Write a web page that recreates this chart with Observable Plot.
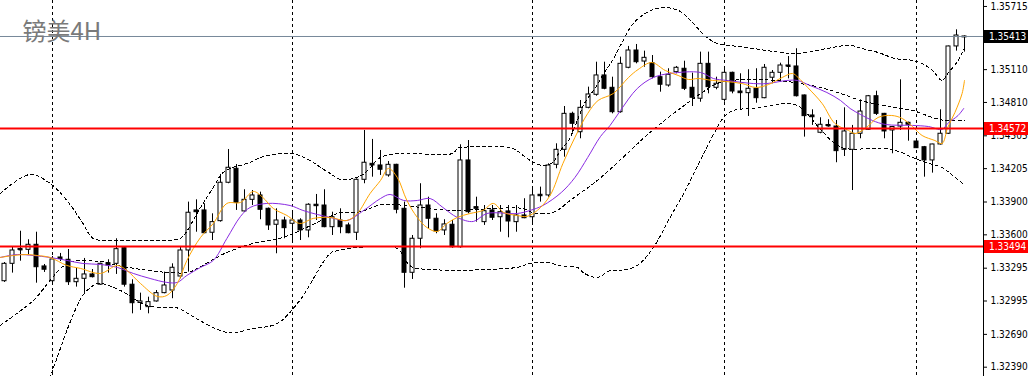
<!DOCTYPE html>
<html>
<head>
<meta charset="utf-8">
<script src="https://cdn.jsdelivr.net/npm/d3@7"></script>
<script src="https://cdn.jsdelivr.net/npm/@observablehq/plot@0.6"></script>
<style>
  html, body { margin: 0; padding: 0; background: #ffffff; }
  #chart svg { display: block; }
</style>
</head>
<body>
<div id="chart"></div>
<script>
// ---- Candles (GBP/USD 4H), index 0..120 ----
const open = [1.33176,1.33335,1.33471,1.33463,1.33509,1.33311,1.33176,1.33393,1.33372,1.33167,
1.33198,1.33238,1.33144,1.33341,1.33335,1.33478,1.33144,1.32977,1.32939,1.32991,
1.33067,1.33091,1.33219,1.33457,1.33823,1.33823,1.33619,1.33725,1.34076,1.34204,
1.33814,1.33920,1.33960,1.33838,1.33692,1.33731,1.33701,1.33731,1.33640,1.33875,
1.33868,1.33670,1.33731,1.33686,1.33619,1.34103,1.34249,1.34234,1.34143,1.34240,
1.33838,1.33253,1.33564,1.33868,1.33747,1.33640,1.33692,1.33487,1.34280,1.33853,
1.33716,1.33823,1.33761,1.33814,1.33716,1.33777,1.33761,1.33966,1.33960,1.34240,
1.34377,1.34706,1.34538,1.34761,1.34880,1.35057,1.34944,1.34721,1.35127,1.35285,
1.35184,1.35169,1.35041,1.34965,1.35087,1.35118,1.34944,1.34844,1.35163,1.34944,
1.34834,1.35081,1.34910,1.34895,1.34935,1.34849,1.35036,1.35081,1.35148,1.35139,
1.34874,1.34691,1.34533,1.34604,1.34590,1.34377,1.34377,1.34524,1.34560,1.34867,
1.34706,1.34554,1.34590,1.34624,1.34453,1.34401,1.34280,1.34426,1.34524,1.35322,
1.35405];
const high = [1.33347,1.33487,1.33633,1.33555,1.33624,1.33329,1.33402,1.33430,1.33466,1.33293,
1.33384,1.33283,1.33341,1.33372,1.33564,1.33487,1.33189,1.33067,1.33030,1.33091,
1.33259,1.33335,1.33487,1.33899,1.33920,1.33884,1.33792,1.34152,1.34380,1.34243,
1.34012,1.34005,1.33990,1.33845,1.33838,1.33761,1.33795,1.33747,1.33884,1.33969,
1.34012,1.33807,1.33838,1.33707,1.34112,1.34554,1.34472,1.34371,1.34270,1.34245,
1.33899,1.33594,1.34067,1.33944,1.33792,1.33738,1.33731,1.34423,1.34462,1.33944,
1.33868,1.33868,1.33868,1.33868,1.33868,1.33930,1.34021,1.34036,1.34249,1.34432,
1.34773,1.34721,1.34828,1.34950,1.35178,1.35178,1.35041,1.35224,1.35322,1.35340,
1.35279,1.35239,1.35087,1.35118,1.35139,1.35187,1.35078,1.35270,1.35270,1.35041,
1.35127,1.35087,1.35072,1.35109,1.35118,1.35157,1.35102,1.35169,1.35230,1.35301,
1.34878,1.34743,1.34670,1.34652,1.34645,1.34761,1.34600,1.34834,1.34874,1.34913,
1.34710,1.34590,1.35017,1.34630,1.34462,1.34408,1.34428,1.34743,1.35325,1.35474,
1.35418];
const low = [1.33165,1.33250,1.33359,1.33411,1.33158,1.33256,1.33153,1.33356,1.33137,1.33122,
1.33064,1.33206,1.33137,1.33250,1.33238,1.33122,1.32878,1.32909,1.32878,1.32985,
1.33061,1.33016,1.33198,1.33259,1.33624,1.33610,1.33548,1.33716,1.34067,1.33823,
1.33807,1.33868,1.33738,1.33640,1.33427,1.33564,1.33539,1.33548,1.33573,1.33731,
1.33665,1.33594,1.33610,1.33610,1.33548,1.34067,1.34127,1.34143,1.34127,1.33792,
1.33112,1.33192,1.33473,1.33655,1.33610,1.33594,1.33478,1.33478,1.33792,1.33716,
1.33686,1.33731,1.33624,1.33573,1.33624,1.33747,1.33701,1.33899,1.33944,1.34204,
1.34310,1.34529,1.34478,1.34752,1.34867,1.34926,1.34706,1.34712,1.35118,1.35163,
1.35132,1.35026,1.34904,1.34950,1.35072,1.34919,1.34773,1.34812,1.34889,1.34926,
1.34812,1.34889,1.34737,1.34682,1.34803,1.34844,1.34981,1.34995,1.35026,1.34860,
1.34493,1.34600,1.34524,1.34584,1.34259,1.34316,1.34005,1.34478,1.34554,1.34691,
1.34478,1.34341,1.34554,1.34456,1.34389,1.34127,1.34164,1.34421,1.34517,1.35279,
1.35270];
const close = [1.33335,1.33457,1.33462,1.33509,1.33304,1.33281,1.33375,1.33379,1.33167,1.33198,
1.33238,1.33213,1.33335,1.33320,1.33469,1.33144,1.32975,1.32991,1.32985,1.33067,
1.33137,1.33299,1.33457,1.33802,1.33807,1.33615,1.33716,1.34076,1.34213,1.33893,
1.33920,1.33960,1.33829,1.33686,1.33731,1.33661,1.33731,1.33640,1.33875,1.33862,
1.33670,1.33761,1.33670,1.33615,1.34103,1.34259,1.34234,1.34195,1.34240,1.33829,
1.33253,1.33564,1.33868,1.33747,1.33631,1.33695,1.33487,1.34280,1.33807,1.33838,
1.33816,1.33756,1.33807,1.33722,1.33777,1.33752,1.33960,1.33953,1.34234,1.34377,
1.34706,1.34615,1.34761,1.34883,1.35057,1.34935,1.34721,1.35163,1.35285,1.35178,
1.35218,1.35041,1.34972,1.35063,1.35127,1.34935,1.34853,1.35163,1.34950,1.34981,
1.35081,1.34910,1.34895,1.34935,1.34849,1.35127,1.35081,1.35148,1.35139,1.34867,
1.34685,1.34675,1.34606,1.34595,1.34365,1.34545,1.34524,1.34727,1.34867,1.34706,
1.34545,1.34586,1.34624,1.34606,1.34392,1.34280,1.34426,1.34524,1.35322,1.35422,
1.35413];

// ---- Bollinger bands (at candle positions) ----
const upperBandX = [-0.54,3.2,5.7,7.8,9.8,11.1,14.1,18.2,21.6,22.3,24.5,26.1,27.2,28.2,30.7,32,34.8,36,38.2,39.5,40.7,42,43.6,45,47,49.5,56,56.6,57,63.2,64,65.7,67.3,68.5,69.5,70.5,71.5,72.5,73.8,75,76,77,78.6,80.3,82.3,84.5,86.1,87.8,89.1,90.7,93.6,97,98.6,100.3,102.8,105.7,107.2,109.2,111.3,113.5,114.7,116,117.2,117.9,119.2,120];
const upperBand = [1.33978,1.34152,1.34069,1.33914,1.33704,1.33567,1.33548,1.33548,1.33558,1.33585,1.33850,1.34033,1.34161,1.34207,1.34261,1.34307,1.34344,1.34344,1.34280,1.34216,1.34161,1.34106,1.34115,1.34161,1.34307,1.34344,1.34344,1.34389,1.34398,1.34398,1.34371,1.34280,1.34234,1.34261,1.34371,1.34462,1.34627,1.34801,1.34938,1.35084,1.35194,1.35331,1.35532,1.35632,1.35678,1.35641,1.35532,1.35404,1.35349,1.35331,1.35303,1.35267,1.35258,1.35267,1.35303,1.35331,1.35303,1.35267,1.35212,1.35194,1.35166,1.35102,1.35011,1.35075,1.35194,1.35312];
const middleBandX = [-0.54,3.6,5.7,7.3,8.5,12,14.1,18,20.5,23,24.1,27.8,31.1,34.8,40.7,42,44,45.7,47,48.6,50,55.7,59,64.8,66,68,69.1,70.7,74.1,77.3,80.7,85.3,89.1,90.7,96.6,99.5,102,104.5,107,108.6,111.3,113.5,116,117.6,120];
const middleBand = [1.32772,1.33000,1.33183,1.33311,1.33356,1.33356,1.33320,1.33274,1.33256,1.33256,1.33293,1.33439,1.33521,1.33576,1.33768,1.33804,1.33804,1.33841,1.33877,1.33877,1.33868,1.33823,1.33832,1.33841,1.33804,1.33795,1.33823,1.33914,1.34097,1.34307,1.34536,1.34801,1.34983,1.35011,1.35011,1.34983,1.34947,1.34892,1.34828,1.34801,1.34764,1.34737,1.34673,1.34645,1.34645];
const lowerBandX = [-0.54,3.6,5.7,6.9,7.8,9.1,9.8,11.1,12,14.5,17.8,21.9,22.3,27.8,31.1,34.1,36.9,40.7,41.7,44.1,49.1,50.3,51.1,64.1,65.7,68.2,69.1,71.6,72.5,74.1,75.7,77,79.1,81.1,83.2,85.3,87.4,89.1,89.8,91.1,93.6,96.1,97.8,99.1,100.3,101.9,103.8,105.1,110.1,112.1,113.5,115.1,117.2,118.5,119.8];
const lowerBand = [1.31565,1.31848,1.32296,1.32543,1.32726,1.32954,1.33046,1.33137,1.33155,1.33091,1.32954,1.32927,1.32909,1.32708,1.32744,1.32790,1.33000,1.33430,1.33457,1.33484,1.33475,1.33347,1.33302,1.33302,1.33338,1.33347,1.33320,1.33302,1.33247,1.33210,1.33274,1.33274,1.33320,1.33484,1.33759,1.34033,1.34344,1.34581,1.34664,1.34737,1.34755,1.34782,1.34801,1.34782,1.34709,1.34572,1.34435,1.34389,1.34389,1.34353,1.34307,1.34261,1.34216,1.34143,1.34069];

// ---- Moving averages ----
const slowMAX = [-0.54,1.6,3.6,5.7,7.8,9.8,12,14.1,16.1,18.2,20.3,21.6,22.8,24.5,26.1,27.8,29.5,30.7,32.8,35.7,37.3,39.1,40.7,42.8,44.9,47,48.2,49.9,51.6,53.2,54.8,56.6,58.6,60.3,64.1,65.7,67.3,69.6,71.3,72.9,74.5,75.7,77,79.1,81.1,83.2,87,88.6,90.3,93.6,95.3,97.8,99.1,100.7,102.8,104.5,105.7,107,108.5,110.1,113.5,115.5,117.2,117.9,119.2,119.9];
const slowMA = [1.33393,1.33420,1.33411,1.33393,1.33366,1.33338,1.33329,1.33302,1.33247,1.33201,1.33165,1.33165,1.33229,1.33302,1.33366,1.33567,1.33768,1.33850,1.33887,1.33868,1.33823,1.33786,1.33759,1.33731,1.33823,1.33932,1.33969,1.33914,1.33914,1.33932,1.33850,1.33759,1.33722,1.33795,1.33795,1.33823,1.33868,1.33987,1.34124,1.34307,1.34499,1.34600,1.34737,1.34938,1.35038,1.35075,1.35084,1.35029,1.35011,1.34983,1.34983,1.35011,1.35011,1.34965,1.34901,1.34828,1.34755,1.34700,1.34645,1.34609,1.34600,1.34590,1.34563,1.34618,1.34691,1.34755];
const fastMAX = [-0.54,1.1,2.8,4.1,5.7,7.8,9.5,12,14.1,15.3,17,19.1,20.3,21.6,22.8,24.5,26.1,27.8,29.5,31.1,32.3,33.6,35.3,36.9,38.6,40.7,42.8,44.1,45.7,47,48,49.1,50.3,51.6,52.8,54.1,55.3,56.6,58.2,59.8,61.1,62.4,64.1,65.3,66.6,68.2,69.8,71.3,72.9,74.2,76.1,78,79.2,80.9,82.6,84.2,85.5,86.7,88.5,90.1,92.2,93.9,95.5,97.2,98.5,99.2,100.4,102.2,103.8,105.5,106.3,107.6,109.2,110.9,112.2,113.5,114.7,116.3,117.2,117.9,118.8,119.7,120];
const fastMA = [1.33393,1.33411,1.33420,1.33411,1.33393,1.33320,1.33293,1.33247,1.33320,1.33274,1.33155,1.33037,1.33046,1.33155,1.33366,1.33576,1.33704,1.33887,1.33896,1.33996,1.33941,1.33841,1.33777,1.33704,1.33750,1.33759,1.33731,1.33795,1.33978,1.34097,1.34207,1.34124,1.33914,1.33759,1.33667,1.33631,1.33704,1.33759,1.33795,1.33823,1.33887,1.33804,1.33777,1.33768,1.33823,1.33960,1.34252,1.34490,1.34709,1.34828,1.34892,1.35038,1.35111,1.35175,1.35102,1.35057,1.35020,1.35029,1.35011,1.35002,1.34983,1.34947,1.34974,1.35038,1.35075,1.35038,1.34947,1.34801,1.34618,1.34554,1.34526,1.34572,1.34673,1.34691,1.34664,1.34590,1.34508,1.34462,1.34435,1.34581,1.34718,1.34892,1.35011];

// ---- Levels, grid, axis ----
const currentPrice = 1.35413;
const levels = [1.34572, 1.33494];
const separators = [6, 36, 66, 90, 114];
const yTicks = [1.35715,1.35110,1.34810,1.34505,1.34205,1.33900,1.33600,1.33295,1.32995,1.32690,1.32390];
const title = "镑美4H";

const candles = open.map((o, i) => ({i, o, h: high[i], l: low[i], c: close[i]}));
const series = (xs, ys) => xs.map((x, k) => ({x, y: ys[k]}));
const xDomain = [-0.5, 122.375];
const yDomain = [1.32305, 1.35742];
const fmt = d3.format(".5f");
const axisFont = "'DejaVu Sans Condensed', 'DejaVu Sans', sans-serif";
const dotted = {stroke: "#000000", strokeWidth: 1, strokeDasharray: "3,3", curve: "catmull-rom", clip: true, shapeRendering: "crispEdges"};

const chart = Plot.plot({
  width: 1031,
  height: 376,
  marginLeft: 0,
  marginRight: 48,
  marginTop: 0,
  marginBottom: 0,
  style: {fontFamily: axisFont, fontSize: "10px", background: "#ffffff", color: "#000000"},
  x: {domain: xDomain, axis: null},
  y: {domain: yDomain, axis: null},
  marks: [
    Plot.ruleX(separators, {stroke: "#000000", strokeDasharray: "3,3", strokeWidth: 1, shapeRendering: "crispEdges"}),
    // candles
    Plot.ruleX(candles, {x: "i", y1: "l", y2: "h", stroke: "#000000", strokeWidth: 1}),
    Plot.rect(candles, {
      x1: d => d.i - 0.25, x2: d => d.i + 0.25,
      y1: "o", y2: "c",
      fill: d => d.c >= d.o ? "#ffffff" : "#000000",
      stroke: "#000000", strokeWidth: 1
    }),
    Plot.link(candles.filter(d => Math.abs(d.c - d.o) < 0.00012), {
      x1: d => d.i - 0.25, x2: d => d.i + 0.25, y1: "c", y2: "c", stroke: "#000000", strokeWidth: 1
    }),
    // Bollinger bands
    Plot.line(series(upperBandX, upperBand), {x: "x", y: "y", ...dotted}),
    Plot.line(series(middleBandX, middleBand), {x: "x", y: "y", ...dotted}),
    Plot.line(series(lowerBandX, lowerBand), {x: "x", y: "y", ...dotted}),
    // moving averages
    Plot.line(series(slowMAX, slowMA), {x: "x", y: "y", stroke: "#8a2be2", strokeWidth: 1, curve: "catmull-rom", clip: true}),
    Plot.line(series(fastMAX, fastMA), {x: "x", y: "y", stroke: "#ffa500", strokeWidth: 1, curve: "catmull-rom", clip: true}),
    // horizontal levels
    Plot.ruleY([currentPrice], {stroke: "#778899", strokeWidth: 1}),
    Plot.ruleY(levels, {stroke: "#ff0000", strokeWidth: 2}),
    // price axis on the right (top label nudged down so it stays inside, as in the terminal)
    Plot.axisY(yTicks.slice(1), {anchor: "right", tickSize: 3, tickPadding: 4, tickFormat: fmt, label: null, fontSize: 10, fill: "#000000", stroke: "#000000"}),
    Plot.axisY(yTicks.slice(0, 1), {anchor: "right", tickSize: 3, tickPadding: 4, tickFormat: fmt, label: null, fontSize: 10, fill: "#000000", stroke: "#000000", dy: 3}),
    Plot.frame({anchor: "right", stroke: "#000000"}),
    // title
    Plot.text([title], {frameAnchor: "top-left", dx: 22, dy: 22, lineAnchor: "top", textAnchor: "start",
      fontSize: 24, fill: "#7a7a7a", fontFamily: "'Noto Sans CJK SC', 'Noto Sans', sans-serif"})
  ]
});

document.getElementById("chart").appendChild(chart);

// price boxes on the axis, positioned through the chart's own y scale
const yScale = chart.scale("y");
const svg = d3.select(chart);
const boxes = [{v: currentPrice, fill: "#000000"}, ...levels.map(v => ({v, fill: "#ff0000"}))];
const axisX = 1031 - 48;
const g = svg.append("g").attr("font-family", axisFont).attr("font-size", 10).attr("text-anchor", "start");
for (const b of boxes) {
  const y = yScale.apply(b.v);
  g.append("rect").attr("x", axisX + 1).attr("y", Math.round(y) - 6).attr("width", 44).attr("height", 13).attr("fill", b.fill);
  g.append("text").attr("x", axisX + 6).attr("y", Math.round(y) + 0.5).attr("dy", "0.35em")
    .attr("text-anchor", "start").attr("fill", "#ffffff").text(fmt(b.v));
}
</script>
</body>
</html>
